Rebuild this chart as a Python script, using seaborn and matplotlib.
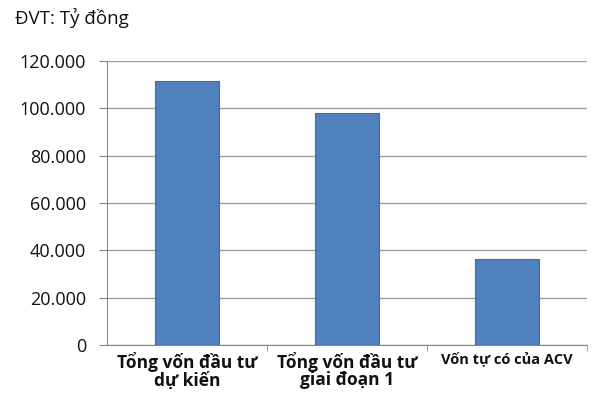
import numpy as np
import pandas as pd
import seaborn as sns
import matplotlib.pyplot as plt

categories = ["Tổng vốn đầu tư\ndự kiến", "Tổng vốn đầu tư\ngiai đoạn 1", "Vốn tự có của ACV"]
values = [111689, 97900, 36400]
yticks = [0, 20000, 40000, 60000, 80000, 100000, 120000]
ytick_labels = ["0", "20.000", "40.000", "60.000", "80.000", "100.000", "120.000"]

sns.set_style("white")
plt.rcParams['font.family'] = ['Open Sans', 'DejaVu Sans']

df = pd.DataFrame({"cat": categories, "val": values})

fig = plt.figure(figsize=(6, 4), dpi=100)
ax = fig.add_axes([0.178, 0.1375, 0.8, 0.71])
sns.barplot(data=df, x="cat", y="val", color="#4f81bd", saturation=1, width=0.4,
            edgecolor="#3d6ca6", linewidth=0.8, ax=ax, zorder=3)

ax.set_ylim(0, 120000)
ax.set_xlim(-0.5, 2.5)
ax.set_yticks(yticks)
ax.set_yticklabels(ytick_labels, fontsize=13, color="#111111")
ax.yaxis.grid(True, color="#a0a0a0", linewidth=1, zorder=0)
ax.set_xlabel("")
ax.set_ylabel("")

# category labels, with boundary tick marks
ax.set_xticks([0, 1, 2])
ax.set_xticklabels(categories, fontweight="bold", fontsize=12.5, linespacing=0.95,
                   color="#111111")
ax.get_xticklabels()[2].set_fontsize(10.5)
ax.tick_params(axis="x", length=0, pad=5)
ax.set_xticks([0.5, 1.5, 2.5], minor=True)
ax.tick_params(axis="x", which="minor", length=4, color="#888888", direction="out", bottom=True)
ax.tick_params(axis="y", length=6, color="#888888", direction="out", left=True, pad=9)

for s in ["top", "right"]:
    ax.spines[s].set_visible(False)
ax.spines["left"].set_color("#888888")
ax.spines["bottom"].set_color("#888888")

fig.text(0.025, 0.955, "ĐVT: Tỷ đồng", fontsize=13.5, va="center", ha="left", color="#111111")

fig.savefig("out.png", dpi=100)
